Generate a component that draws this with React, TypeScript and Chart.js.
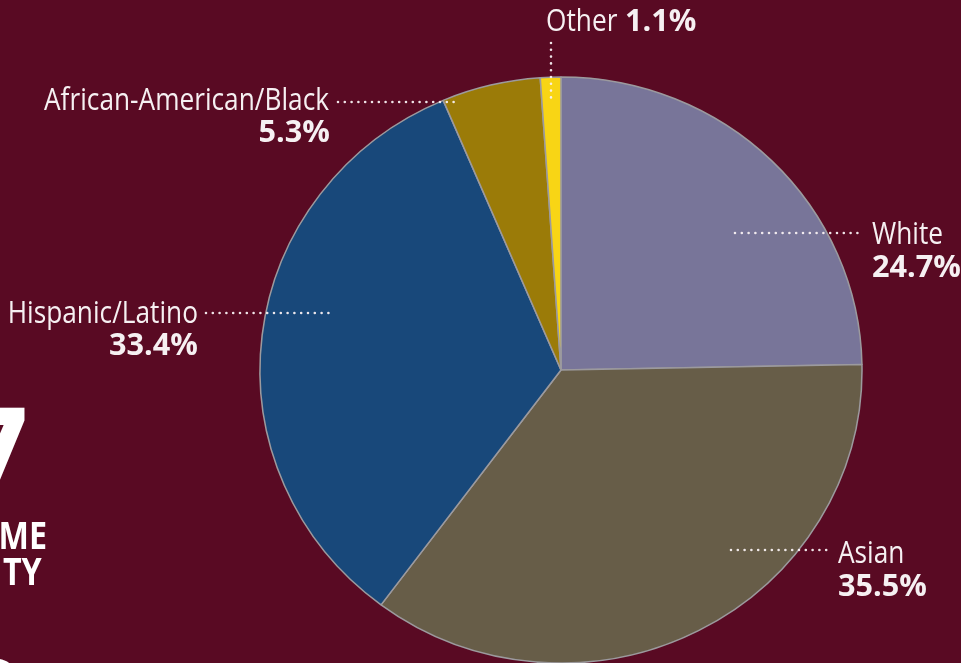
import React, { useEffect, useRef } from "react";
import { Chart, registerables } from "chart.js";

Chart.register(...registerables);

const categories = ["White", "Asian", "Hispanic/Latino", "African-American/Black", "Other"];
const shares = [24.7, 35.5, 33.4, 5.3, 1.1];
const valueLabels = ["24.7%", "35.5%", "33.4%", "5.3%", "1.1%"];
const sliceColors = ["#787599", "#675d48", "#18487a", "#9b7b08", "#f8d515"];
const sideTexts = ["7", "ME", "TY", "0"];

const BG = "#590a23";
const W = 961;
const H = 663;
const CX = 561;
const CY = 370;
const RY = 293;
const STRETCH = 301 / 293;
const FONT = "'Open Sans', 'Noto Sans', sans-serif";

const labelLayout: Record<string, any> = {
  White: { nx: 872, ny: 244, vx: 872, vy: 277, align: "left", l: [735, 233, 862, 233] },
  Asian: { nx: 838, ny: 563, vx: 838, vy: 596, align: "left", l: [731, 550, 827, 550] },
  "Hispanic/Latino": { nx: 198, ny: 323, vx: 198, vy: 355, align: "right", l: [206, 313, 330, 313] },
  "African-American/Black": { nx: 329, ny: 110, vx: 330, vy: 142, align: "right", l: [338, 102, 460, 102] },
  Other: { nx: 546, ny: 31, vx: 625, vy: 31, align: "left", l: [551, 43, 551, 100] },
};

function drawScaled(ctx: CanvasRenderingContext2D, text: string, x: number, y: number, sx: number, align: CanvasTextAlign) {
  ctx.save();
  ctx.translate(x, y);
  ctx.scale(sx, 1);
  ctx.textAlign = align;
  ctx.textBaseline = "alphabetic";
  ctx.fillText(text, 0, 0);
  ctx.restore();
}

function drawInkRight(ctx: CanvasRenderingContext2D, text: string, inkRight: number, baseline: number, sx: number) {
  ctx.save();
  ctx.textAlign = "left";
  ctx.textBaseline = "alphabetic";
  const m = ctx.measureText(text);
  const right = m.actualBoundingBoxRight * sx;
  ctx.translate(inkRight - right, baseline);
  ctx.scale(sx, 1);
  ctx.fillText(text, 0, 0);
  ctx.restore();
}

const decoPlugin = {
  id: "deco",
  beforeDraw(chart: any) {
    const ctx = chart.ctx;
    ctx.save();
    ctx.fillStyle = BG;
    ctx.fillRect(0, 0, chart.width, chart.height);
    ctx.restore();
  },
  beforeDatasetsDraw(chart: any) {
    const ctx = chart.ctx;
    ctx.save();
    ctx.translate(CX, 0);
    ctx.scale(STRETCH, 1);
    ctx.translate(-CX, 0);
  },
  afterDatasetsDraw(chart: any) {
    chart.ctx.restore();
  },
  afterDraw(chart: any) {
    const ctx: CanvasRenderingContext2D = chart.ctx;
    ctx.save();
    ctx.strokeStyle = "rgba(248,240,242,0.95)";
    ctx.lineWidth = 2.6;
    ctx.lineCap = "round";
    ctx.setLineDash([0, 6.8]);
    categories.forEach((c) => {
      const L = labelLayout[c].l;
      ctx.beginPath();
      ctx.moveTo(L[0], L[1]);
      ctx.lineTo(L[2], L[3]);
      ctx.stroke();
    });
    ctx.setLineDash([]);

    ctx.fillStyle = "#f6f0f2";
    ctx.font = `400 31px ${FONT}`;
    const sReg = 285 / ctx.measureText("African-American/Black").width;
    ctx.font = `700 31px ${FONT}`;
    const sBold = 89 / ctx.measureText("33.4%").width;
    categories.forEach((c, i) => {
      const p = labelLayout[c];
      ctx.font = `400 31px ${FONT}`;
      drawScaled(ctx, c, p.nx, p.ny, sReg, p.align);
      ctx.font = `700 31px ${FONT}`;
      drawScaled(ctx, valueLabels[i], p.vx, p.vy, sBold, p.align);
    });

    ctx.fillStyle = "#ffffff";
    ctx.font = `700 136px ${FONT}`;
    drawInkRight(ctx, sideTexts[0], 25, 505, 0.95);
    ctx.font = `700 38px ${FONT}`;
    drawInkRight(ctx, sideTexts[1], 46, 549, 0.85);
    drawInkRight(ctx, sideTexts[2], 42, 585, 0.85);
    ctx.font = `700 136px ${FONT}`;
    drawInkRight(ctx, sideTexts[3], 25, 758, 0.95);
    ctx.restore();
  },
};

export default function App() {
  const ref = useRef<HTMLCanvasElement | null>(null);
  useEffect(() => {
    if (!ref.current) return;
    const chart = new Chart(ref.current, {
      type: "pie",
      data: {
        labels: categories,
        datasets: [
          {
            data: shares,
            backgroundColor: sliceColors,
            borderColor: "#9c9a9e",
            borderWidth: 1.5,
            hoverOffset: 0,
            clip: false as any,
          } as any,
        ],
      },
      options: {
        responsive: false,
        animation: false,
        radius: RY,
        layout: { padding: { left: 200, right: 39, top: 77, bottom: 0 } },
        plugins: { legend: { display: false }, tooltip: { enabled: false } },
        events: [],
      } as any,
      plugins: [decoPlugin],
    });
    return () => chart.destroy();
  }, []);
  return (
    <div style={{ position: "absolute", left: 0, top: 0, width: W, height: H, background: BG, overflow: "hidden" }}>
      <canvas ref={ref} width={W} height={H} style={{ display: "block", width: W, height: H }} />
    </div>
  );
}
